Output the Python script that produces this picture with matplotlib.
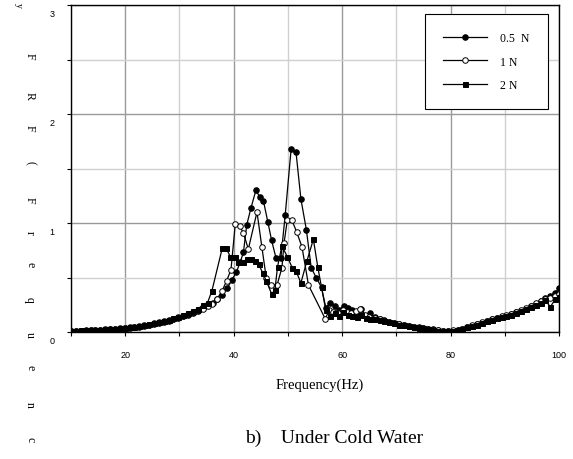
import numpy as np
import matplotlib
matplotlib.use('Agg')
import matplotlib.pyplot as plt
import matplotlib.transforms as mtransforms

# 低频段 (三条曲线几乎重合)
freq_low = [10.0, 10.9, 11.8, 12.7, 13.6, 14.5, 15.4, 16.3, 17.2, 18.1, 19.0, 19.9,
            20.8, 21.7, 22.6, 23.5, 24.4, 25.3, 26.2, 27.1, 28.0, 28.9, 29.8, 30.7,
            31.6, 32.5, 33.4, 34.3, 35.2]
low_05 = [0.010, 0.011, 0.012, 0.014, 0.015, 0.017, 0.019, 0.021, 0.024, 0.027, 0.030, 0.036,
          0.040, 0.045, 0.050, 0.057, 0.065, 0.074, 0.085, 0.095, 0.105, 0.115, 0.130, 0.145,
          0.160, 0.175, 0.195, 0.220, 0.245]
low_1 = [0.008, 0.010, 0.011, 0.013, 0.016, 0.018, 0.020, 0.023, 0.026, 0.029, 0.033, 0.038,
         0.042, 0.048, 0.054, 0.060, 0.068, 0.078, 0.088, 0.098, 0.110, 0.120, 0.135, 0.150,
         0.165, 0.180, 0.200, 0.215, 0.240]
low_2 = [0.012, 0.013, 0.014, 0.016, 0.018, 0.020, 0.022, 0.025, 0.028, 0.031, 0.034, 0.039,
         0.044, 0.049, 0.055, 0.062, 0.070, 0.080, 0.090, 0.100, 0.112, 0.125, 0.140, 0.155,
         0.170, 0.190, 0.210, 0.250, 0.270]

# 共振段 (每条曲线各自的频率点)
peak_f_05 = [36.1, 37.0, 37.9, 38.8, 39.7, 40.5, 41.2, 41.8, 42.4, 43.2, 44.1, 44.8, 45.5,
             46.3, 47.0, 47.8, 48.7, 49.5, 50.6, 51.5, 52.4, 53.4, 54.3, 55.2, 56.2, 57.0,
             57.8, 58.6, 59.4, 60.3, 61.1, 61.9, 62.7, 63.5, 64.4, 65.2]
peak_05 = [0.270, 0.300, 0.340, 0.400, 0.480, 0.550, 0.640, 0.730, 0.980, 1.140, 1.300, 1.240, 1.200,
           1.010, 0.840, 0.680, 0.680, 1.070, 1.680, 1.650, 1.220, 0.940, 0.590, 0.500, 0.410, 0.220,
           0.270, 0.240, 0.200, 0.240, 0.220, 0.200, 0.180, 0.210, 0.150, 0.170]

peak_f_1 = [36.0, 36.9, 37.9, 38.7, 39.5, 40.3, 41.1, 41.8, 42.7, 44.3, 45.2, 46.0, 46.8,
            48.0, 48.9, 49.3, 49.9, 50.7, 51.6, 52.6, 53.8, 56.9, 57.6, 58.4, 59.2, 60.1,
            60.9, 61.7, 62.5, 63.3, 64.2, 65.0]
peak_1 = [0.260, 0.300, 0.380, 0.470, 0.570, 0.990, 0.970, 0.910, 0.760, 1.100, 0.780, 0.500, 0.430,
          0.430, 0.590, 0.820, 1.030, 1.030, 0.920, 0.780, 0.430, 0.120, 0.200, 0.180, 0.170, 0.200,
          0.180, 0.170, 0.190, 0.210, 0.160, 0.140]

peak_f_2 = [36.0, 37.9, 38.6, 39.4, 40.2, 40.8, 41.7, 42.4, 43.2, 44.0, 44.6, 45.4, 46.0,
            47.0, 47.6, 48.1, 48.9, 49.9, 50.8, 51.5, 52.4, 53.5, 54.7, 55.5, 56.2, 57.0,
            57.8, 58.6, 59.4, 60.2, 61.0, 61.9, 62.7, 63.5, 64.4, 65.2]
peak_2 = [0.380, 0.770, 0.770, 0.690, 0.690, 0.640, 0.640, 0.670, 0.670, 0.650, 0.620, 0.540, 0.470,
          0.350, 0.385, 0.600, 0.790, 0.690, 0.590, 0.560, 0.450, 0.650, 0.850, 0.600, 0.410, 0.200,
          0.150, 0.170, 0.150, 0.180, 0.160, 0.150, 0.140, 0.160, 0.130, 0.120]

# 高频段
freq_high = [66.0, 66.9, 67.8, 68.7, 69.6, 70.5, 71.4, 72.3, 73.2, 74.1, 75.0, 75.9, 76.8,
             77.7, 78.6, 79.5, 80.4, 81.3, 82.2, 83.1, 84.0, 84.9, 85.8, 86.7, 87.6, 88.5,
             89.4, 90.3, 91.2, 92.1, 93.0, 93.9, 94.8, 95.7, 96.6, 97.5, 98.4, 99.3, 100.0]
high_05 = [0.140, 0.120, 0.110, 0.095, 0.085, 0.075, 0.065, 0.058, 0.050, 0.043, 0.036, 0.030, 0.023,
           0.016, 0.011, 0.008, 0.012, 0.020, 0.030, 0.045, 0.058, 0.070, 0.085, 0.100, 0.115, 0.130,
           0.140, 0.150, 0.165, 0.180, 0.195, 0.215, 0.235, 0.260, 0.285, 0.310, 0.330, 0.360, 0.400]
high_1 = [0.130, 0.115, 0.100, 0.090, 0.080, 0.070, 0.062, 0.055, 0.048, 0.040, 0.034, 0.028, 0.021,
          0.014, 0.010, 0.007, 0.014, 0.022, 0.032, 0.047, 0.060, 0.072, 0.088, 0.102, 0.118, 0.132,
          0.145, 0.155, 0.168, 0.185, 0.200, 0.220, 0.240, 0.265, 0.280, 0.300, 0.310, 0.330, 0.350]
high_2 = [0.120, 0.110, 0.100, 0.088, 0.078, 0.068, 0.060, 0.053, 0.046, 0.040, 0.033, 0.027, 0.020,
          0.013, 0.009, 0.006, 0.010, 0.018, 0.028, 0.043, 0.055, 0.068, 0.082, 0.098, 0.112, 0.126,
          0.138, 0.148, 0.160, 0.175, 0.190, 0.210, 0.228, 0.250, 0.270, 0.290, 0.230, 0.300, 0.320]

series = [
    ('0.5  N', freq_low + peak_f_05 + freq_high, low_05 + peak_05 + high_05, 'o', 'black'),
    ('1 N', freq_low + peak_f_1 + freq_high, low_1 + peak_1 + high_1, 'o', 'white'),
    ('2 N', freq_low + peak_f_2 + freq_high, low_2 + peak_2 + high_2, 's', 'black'),
]

fig = plt.figure(figsize=(5.73, 4.6), dpi=100)
ax = fig.add_axes([71 / 573, 1 - 333 / 460, 488 / 573, 327 / 460])

for label, f, v, m, fc in series:
    ax.plot(f, v, color='black', lw=0.9, marker=m, ms=4.0 if m == 'o' else 3.6,
            mfc=fc, mec='black', mew=0.7, label=label)

ax.set_xlim(10, 100)
ax.set_ylim(0, 3)
ax.set_xticks([20, 40, 60, 80, 100])
ax.set_xticks([10, 30, 50, 70, 90], minor=True)
ax.set_yticks([0, 1, 2, 3])
ax.set_yticks([0.5, 1.5, 2.5], minor=True)
ax.grid(True, which='major', color='#9a9a9a', lw=1.0)
ax.grid(True, which='minor', color='#d0d0d0', lw=1.0)
ax.set_axisbelow(True)
ax.tick_params(which='both', direction='out', length=3, width=0.8, colors='black',
               labelsize=6.5, pad=3)
ax.tick_params(axis='y', pad=9)
for sp in ax.spines.values():
    sp.set_linewidth(1.0)
    sp.set_color('black')

for t in ax.get_xticklabels() + ax.get_yticklabels():
    t.set_fontfamily('Liberation Sans')
# y 轴刻度标签向下偏移
offset = mtransforms.ScaledTranslation(0, -8 / 100, fig.dpi_scale_trans)
for t in ax.get_yticklabels():
    t.set_transform(t.get_transform() + offset)
offset_x = mtransforms.ScaledTranslation(0, -10 / 100, fig.dpi_scale_trans)
for t in ax.get_xticklabels():
    t.set_transform(t.get_transform() + offset_x)

leg = ax.legend(loc='upper right', bbox_to_anchor=(0.977, 0.9725), frameon=True,
                fancybox=False, edgecolor='black', framealpha=1, handlelength=3.7,
                labelspacing=0.95, borderpad=1.55, handletextpad=1.1, borderaxespad=0,
                prop={'family': 'Liberation Serif', 'size': 8.5})
leg.get_frame().set_linewidth(0.8)

fig.text(320 / 573, 1 - 385 / 460, 'Frequency(Hz)', ha='center', va='center',
         family='Liberation Serif', fontsize=10.5)

# 竖排的 y 轴标签
ylab = 'FRF(Frequenc'
ys = [56, 96, 128, 163, 200, 233, 265, 300, 335, 368, 405, 440]
for ch, yp in zip(ylab, ys):
    fig.text(30 / 573, 1 - yp / 460, ch, rotation=-90, ha='center', va='center',
             family='Liberation Serif', fontsize=8.5)
fig.text(18 / 573, 1 - 5 / 460, 'y', rotation=-90, ha='center', va='center',
         family='Liberation Serif', fontsize=7)

fig.text(245 / 573, 1 - 443 / 460, 'b)    Under Cold Water', ha='left', va='baseline',
         family='Liberation Serif', fontsize=14)

fig.savefig('out.png', dpi=100)
